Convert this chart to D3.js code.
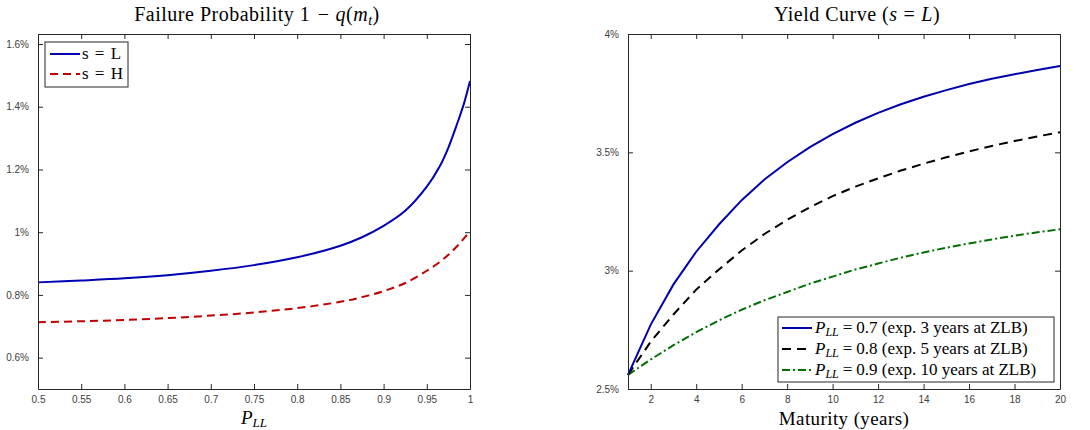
<!DOCTYPE html>
<html>
<head>
<meta charset="utf-8">
<script src="https://cdn.jsdelivr.net/npm/d3@7"></script>
<style>
  body { margin: 0; background: #fff; }
  .tick text { font-family: "Liberation Sans", Arial, sans-serif; font-size: 10px; fill: #404040; }
  .serif { font-family: "Liberation Serif", "Times New Roman", serif; fill: #000; }
</style>
</head>
<body>
<div id="chart"></div>
<script>
// left panel: failure probability vs P_LL (in %)
const pLL   = [0.5, 0.55, 0.6, 0.65, 0.7, 0.75, 0.8, 0.85, 0.875, 0.9, 0.925, 0.95, 0.965, 0.975, 0.985, 0.993, 1.0];
const failL = [0.840, 0.846, 0.853, 0.863, 0.877, 0.895, 0.920, 0.957, 0.984, 1.020, 1.068, 1.145, 1.210, 1.270, 1.345, 1.410, 1.482];
const failH = [0.713, 0.716, 0.720, 0.726, 0.734, 0.744, 0.758, 0.778, 0.793, 0.812, 0.838, 0.877, 0.905, 0.928, 0.955, 0.980, 1.004];
const leftXTicks = [0.5, 0.55, 0.6, 0.65, 0.7, 0.75, 0.8, 0.85, 0.9, 0.95, 1];
const leftXLabels = ["0.5", "0.55", "0.6", "0.65", "0.7", "0.75", "0.8", "0.85", "0.9", "0.95", "1"];
const leftYTicks = [0.6, 0.8, 1.0, 1.2, 1.4, 1.6];
const leftYLabels = ["0.6%", "0.8%", "1%", "1.2%", "1.4%", "1.6%"];

// right panel: yield curve by maturity (in %)
const maturity = [1, 2, 3, 4, 5, 6, 7, 8, 9, 10, 11, 12, 13, 14, 15, 16, 17, 18, 19, 20];
const yield07 = [2.56, 2.772, 2.942, 3.080, 3.195, 3.298, 3.385, 3.458, 3.522, 3.577, 3.625, 3.667, 3.703, 3.735, 3.763, 3.789, 3.811, 3.830, 3.848, 3.865];
const yield08 = [2.56, 2.700, 2.815, 2.920, 3.005, 3.085, 3.155, 3.215, 3.268, 3.315, 3.355, 3.390, 3.423, 3.452, 3.479, 3.504, 3.527, 3.548, 3.567, 3.585];
const yield09 = [2.56, 2.625, 2.685, 2.740, 2.790, 2.835, 2.875, 2.910, 2.945, 2.975, 3.005, 3.030, 3.055, 3.077, 3.097, 3.115, 3.132, 3.148, 3.162, 3.175];
const rightXTicks = [2, 4, 6, 8, 10, 12, 14, 16, 18, 20];
const rightYTicks = [2.5, 3, 3.5, 4];
const rightYLabels = ["2.5%", "3%", "3.5%", "4%"];

let width = 1090, height = 430;
let axisColor = "#262626";

let svg = d3.select("#chart")
  .append("svg")
    .attr("width", width)
    .attr("height", height);

// draws a boxed axes frame with inward ticks on all four sides
function drawFrame(g, x, y, xTicks, xLabels, yTicks, yLabels) {
  let x0 = x.range()[0], x1 = x.range()[1];
  let y0 = y.range()[0], y1 = y.range()[1];

  let bottom = g.append("g")
    .attr("transform", "translate(0," + y0 + ")")
    .call(d3.axisBottom(x).tickValues(xTicks).tickSizeInner(-5).tickSizeOuter(0).tickPadding(7)
      .tickFormat(function(d, i) { return xLabels[i]; }));
  let top = g.append("g")
    .attr("transform", "translate(0," + y1 + ")")
    .call(d3.axisTop(x).tickValues(xTicks).tickSizeInner(-5).tickSizeOuter(0).tickFormat(""));
  let left = g.append("g")
    .attr("transform", "translate(" + x0 + ",0)")
    .call(d3.axisLeft(y).tickValues(yTicks).tickSizeInner(-5).tickSizeOuter(0).tickPadding(9)
      .tickFormat(function(d, i) { return yLabels[i]; }));
  let right = g.append("g")
    .attr("transform", "translate(" + x1 + ",0)")
    .call(d3.axisRight(y).tickValues(yTicks).tickSizeInner(-5).tickSizeOuter(0).tickFormat(""));

  [bottom, top, left, right].forEach(function(a) {
    a.select(".domain").attr("stroke", axisColor).attr("stroke-width", 1);
    a.selectAll(".tick line").attr("stroke", axisColor);
  });
}

// ---------------- left panel ----------------
let xL = d3.scaleLinear().domain([0.5, 1]).range([38, 470]);
let yL = d3.scaleLinear().domain([0.5, 1.632]).range([389, 34]);
let gL = svg.append("g");

let lineL = d3.line()
  .x(function(d) { return xL(d[0]); })
  .y(function(d) { return yL(d[1]); })
  .curve(d3.curveCatmullRom.alpha(0.5));

gL.append("path")
  .attr("d", lineL(d3.zip(pLL, failH)))
  .attr("fill", "none")
  .attr("stroke", "#c00000")
  .attr("stroke-width", 2)
  .attr("stroke-dasharray", "8,5");
gL.append("path")
  .attr("d", lineL(d3.zip(pLL, failL)))
  .attr("fill", "none")
  .attr("stroke", "#0000b4")
  .attr("stroke-width", 2);

drawFrame(gL, xL, yL, leftXTicks, leftXLabels, leftYTicks, leftYLabels);

// title
let tL = gL.append("text")
  .attr("class", "serif")
  .attr("x", 257).attr("y", 21)
  .attr("text-anchor", "middle")
  .style("font-size", "20px")
  .style("letter-spacing", "0.5px");
tL.append("tspan").text("Failure Probability 1 ");
tL.append("tspan").attr("dx", 2).text("\u2212");
tL.append("tspan").attr("dx", 6).style("font-style", "italic").text("q");
tL.append("tspan").text("(");
tL.append("tspan").style("font-style", "italic").text("m");
tL.append("tspan").style("font-style", "italic").style("font-size", "14px").attr("dy", 4).text("t");
tL.append("tspan").attr("dy", -4).text(")");

// x label
let xlabL = gL.append("text")
  .attr("class", "serif")
  .attr("x", 254).attr("y", 424)
  .attr("text-anchor", "middle")
  .style("font-size", "19px");
xlabL.append("tspan").style("font-style", "italic").text("P");
xlabL.append("tspan").style("font-style", "italic").style("font-size", "13px").attr("dy", 3).text("LL");

// legend
let legL = gL.append("g");
legL.append("rect")
  .attr("x", 45).attr("y", 42).attr("width", 83).attr("height", 45)
  .attr("fill", "#fff").attr("stroke", axisColor).attr("stroke-width", 1);
const legLItems = [
  {name: "s = L", color: "#0000b4", dash: null},
  {name: "s = H", color: "#c00000", dash: "8,5"}
];
legLItems.forEach(function(d, i) {
  let yy = 54 + i * 20;
  legL.append("line")
    .attr("x1", 50).attr("x2", 80).attr("y1", yy).attr("y2", yy)
    .attr("stroke", d.color).attr("stroke-width", 2)
    .attr("stroke-dasharray", d.dash);
  legL.append("text")
    .attr("class", "serif")
    .attr("x", 82).attr("y", yy + 5)
    .style("font-size", "17px")
    .style("word-spacing", "2px")
    .text(d.name);
});

// ---------------- right panel ----------------
let xR = d3.scaleLinear().domain([1, 20]).range([628, 1060]);
let yR = d3.scaleLinear().domain([2.5, 4]).range([389, 34]);
let gR = svg.append("g");

let lineR = d3.line()
  .x(function(d) { return xR(d[0]); })
  .y(function(d) { return yR(d[1]); });

const seriesR = [
  {values: yield09, color: "#007000", dash: "8,3,2,3", label: "0.9", years: "10"},
  {values: yield08, color: "#000000", dash: "9,6", label: "0.8", years: "5"},
  {values: yield07, color: "#0000a8", dash: null, label: "0.7", years: "3"}
];

seriesR.forEach(function(s) {
  gR.append("path")
    .attr("d", lineR(d3.zip(maturity, s.values)))
    .attr("fill", "none")
    .attr("stroke", s.color)
    .attr("stroke-width", 2)
    .attr("stroke-dasharray", s.dash);
});

drawFrame(gR, xR, yR, rightXTicks, rightXTicks.map(String), rightYTicks, rightYLabels);

// title
let tR = gR.append("text")
  .attr("class", "serif")
  .attr("x", 857).attr("y", 21)
  .attr("text-anchor", "middle")
  .style("font-size", "20px")
  .style("letter-spacing", "0.5px");
tR.append("tspan").text("Yield Curve (");
tR.append("tspan").style("font-style", "italic").text("s");
tR.append("tspan").attr("dx", 6).text("=");
tR.append("tspan").attr("dx", 6).style("font-style", "italic").text("L");
tR.append("tspan").text(")");

// x label
gR.append("text")
  .attr("class", "serif")
  .attr("x", 844).attr("y", 425)
  .attr("text-anchor", "middle")
  .style("font-size", "19px")
  .style("letter-spacing", "0.4px")
  .text("Maturity (years)");

// legend
let legR = gR.append("g");
legR.append("rect")
  .attr("x", 778).attr("y", 317).attr("width", 276).attr("height", 65)
  .attr("fill", "#fff").attr("stroke", axisColor).attr("stroke-width", 1);
seriesR.slice().reverse().forEach(function(s, i) {
  let yy = 328 + i * 21;
  legR.append("line")
    .attr("x1", 782).attr("x2", 812).attr("y1", yy).attr("y2", yy)
    .attr("stroke", s.color).attr("stroke-width", 2)
    .attr("stroke-dasharray", s.dash);
  let t = legR.append("text")
    .attr("class", "serif")
    .attr("x", 815).attr("y", yy + 5)
    .style("font-size", "17px");
  t.append("tspan").style("font-style", "italic").text("P");
  t.append("tspan").style("font-style", "italic").style("font-size", "12px").attr("dy", 3).text("LL");
  t.append("tspan").attr("dy", -3).attr("dx", 4).text("=");
  t.append("tspan").attr("dx", 4).text(s.label + " (exp. " + s.years + " years at ZLB)");
});
</script>
</body>
</html>
